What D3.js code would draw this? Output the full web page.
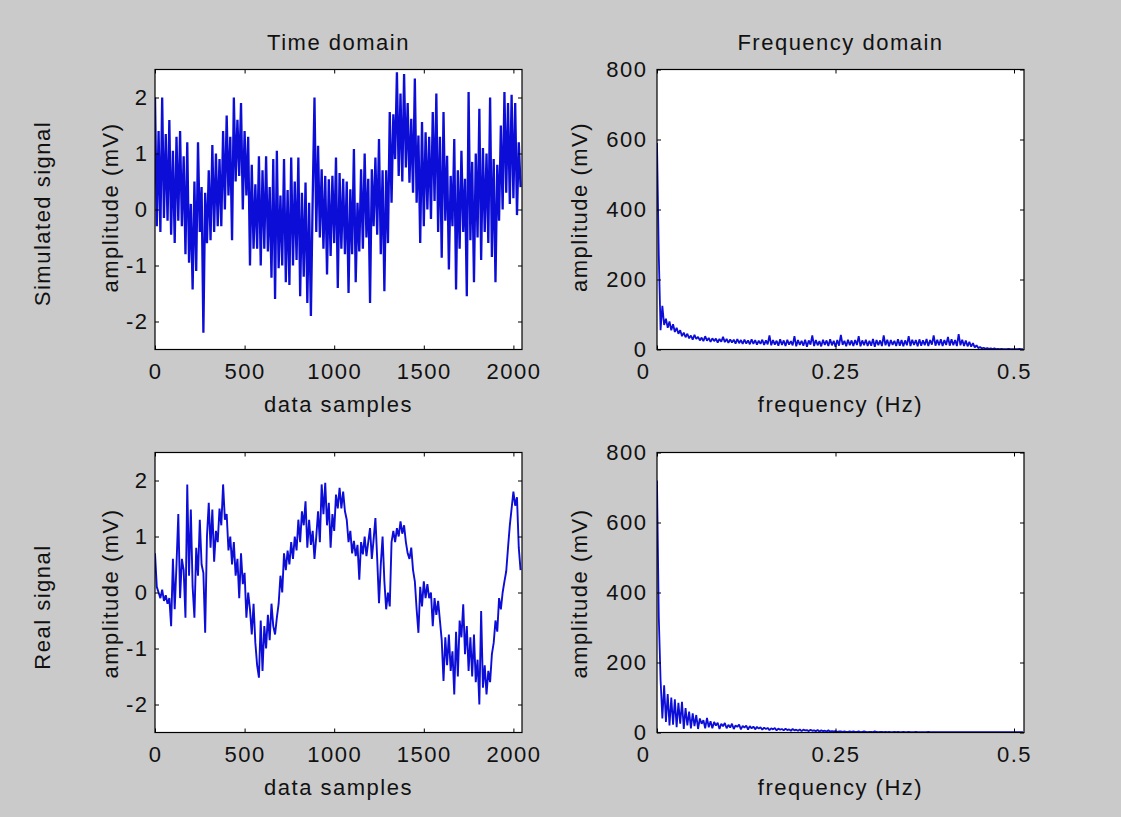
<!DOCTYPE html>
<html>
<head>
<meta charset="utf-8">
<script src="https://cdn.jsdelivr.net/npm/d3@7/dist/d3.min.js"></script>
<style>
  html, body { margin: 0; padding: 0; background: #cacaca; }
  svg { display: block; }
  text { font-family: "Liberation Sans", Arial, sans-serif; font-size: 22px; fill: #111; letter-spacing: 1.5px; }
</style>
</head>
<body>
<svg id="fig" width="1121" height="817"></svg>
<script>
'use strict';

/* ── Data ── */
const sampleStep = 10;          // one value every 10 data samples
const simulatedSignal = [
  2.0, -0.3, 1.4, -0.4, 2.0, -0.15, 1.35, -0.2, 1.6, -0.45,
  1.05, -0.6, 1.3, -0.2, 1.4, -0.3, 0.95, -0.8, 1.2, -0.95,
  0.1, -1.43, 0.5, -1.1, 1.2, -0.4, 0.4, -2.2, 0.3, -0.6,
  0.7, -0.55, 1.15, -0.4, 1.0, -0.3, 0.9, -0.3, 1.4, 0.0,
  1.68, 0.25, 1.3, -0.55, 2.0, 0.5, 1.6, 0.6, 1.9, 0.0,
  1.4, 0.25, 1.3, -1.0, 0.8, -0.7, 0.45, -0.7, 0.95, -1.0,
  0.7, -0.7, 0.95, -0.75, 0.4, -1.22, 0.9, -1.6, 1.05, -1.05,
  0.25, -1.0, 0.9, -1.3, 0.35, -1.35, 0.93, -1.0, 0.5, -0.9,
  0.93, -1.55, 0.3, -1.2, 0.48, -1.67, 0.12, -1.9, 0.2, 2.0,
  -0.4, 1.14, -0.5, 0.72, -0.7, 0.6, -1.16, 0.54, -0.83, 0.6,
  -0.6, 0.93, -1.4, 0.65, -0.7, 0.55, -0.8, 0.5, -1.49, 0.36,
  -0.8, 1.08, -1.3, 0.12, -0.75, 0.72, -0.7, 1.0, -0.5, 0.55,
  -1.67, 0.72, -0.3, 0.93, -0.45, 1.26, -0.8, 0.7, -1.46, 0.7,
  -0.6, 1.74, 0.12, 1.7, 0.9, 2.45, 0.6, 2.07, 0.5, 2.42,
  0.75, 1.9, 0.48, 1.62, 0.3, 2.34, 0.12, 1.32, -0.6, 1.56,
  -0.3, 1.38, 0.0, 1.3, -0.17, 1.74, 0.15, 2.07, -0.4, 1.3,
  -0.86, 1.74, -0.2, 0.96, -1.07, 0.6, -0.3, 1.26, -1.43, 0.7,
  -0.7, 1.05, -0.4, 0.55, -1.55, 2.1, -0.55, 0.85, -1.3, 1.0,
  -0.5, 1.8, -0.9, 1.1, -0.4, 1.0, -0.6, 2.0, -0.85, 0.9,
  -1.3, 0.8, -0.2, 1.5, 0.0, 2.1, 0.3, 1.9, 0.1, 2.05,
  0.2, 1.9, -0.1, 1.2, 0.4
];
const realSignal = [
  0.7, 0.1, 0.0, -0.1, 0.05, -0.15, -0.05, -0.2, -0.1, -0.6,
  0.6, -0.3, 0.5, 1.4, -0.1, 0.6, 0.4, -0.45, 1.93, 0.3,
  1.48, 0.1, -0.45, 0.8, 0.3, 1.3, 0.5, 0.35, -0.72, 1.0,
  1.6, 0.8, 1.48, 0.55, 1.1, 0.9, 1.5, 1.2, 1.93, 1.3,
  1.4, 0.75, 1.0, 0.5, 0.9, 0.3, 0.6, -0.1, 0.7, 0.15,
  0.35, -0.45, 0.0, -0.3, -0.75, -0.2, -0.9, -1.3, -1.52, -0.5,
  -1.4, -0.6, -1.0, -0.4, -0.85, -0.2, -0.6, -0.75, -0.45, -0.2,
  0.3, 0.0, 0.7, 0.4, 0.75, 0.5, 0.9, 0.6, 1.0, 0.75,
  1.3, 0.9, 1.45, 1.2, 1.63, 0.8, 1.3, 0.85, 1.1, 0.6,
  1.0, 1.45, 0.9, 1.93, 1.4, 1.96, 1.2, 1.6, 0.8, 1.4,
  1.1, 1.75, 1.5, 1.87, 1.5, 1.8, 1.45, 1.3, 0.9, 1.1,
  0.7, 0.92, 0.65, 0.85, 0.23, 0.9, 0.68, 1.0, 0.65, 0.9,
  1.15, 0.6, 0.95, 1.33, 0.6, -0.19, 0.5, 1.0, 0.2, -0.3,
  0.0, -0.25, 0.9, 1.1, 0.9, 1.15, 1.0, 1.27, 1.05, 1.2,
  0.9, 0.7, 0.6, 0.8, 0.4, 0.2, -0.3, -0.72, 0.1, -0.25,
  0.2, -0.1, 0.15, -0.1, 0.0, -0.6, -0.1, -0.4, -0.15, -0.5,
  -0.85, -1.58, -0.8, -1.3, -0.75, -1.4, -1.05, -1.82, -0.7, -1.5,
  -0.5, -0.8, -0.21, -1.1, -0.6, -1.4, -0.8, -1.5, -0.75, -1.6,
  -1.2, -2.0, -0.33, -1.7, -1.3, -1.82, -1.4, -1.6, -1.1, -0.9,
  -0.5, -0.7, -0.1, -0.3, 0.0, 0.2, 0.38, 0.8, 1.2, 1.5,
  1.8, 1.55, 1.7, 0.8, 0.4
];

const freqStep = 0.0025;        // Hz between spectrum values
const simulatedSpectrum = [
  590, 270, 55, 125, 70, 88, 62, 80, 55, 72,
  50, 62, 45, 55, 38, 48, 35, 45, 32, 40,
  28, 42, 30, 36, 26, 34, 24, 38, 25, 33,
  22, 32, 24, 31, 20, 30, 22, 36, 21, 30,
  19, 29, 20, 28, 17, 30, 18, 27, 16, 28,
  17, 26, 15, 29, 16, 27, 14, 25, 16, 28,
  13, 26, 15, 40, 12, 27, 14, 25, 11, 29,
  13, 26, 10, 28, 14, 24, 12, 38, 9, 27,
  13, 25, 11, 28, 8, 26, 14, 40, 10, 27,
  12, 24, 9, 28, 13, 26, 10, 29, 12, 25,
  8, 27, 11, 42, 13, 25, 9, 28, 12, 26,
  10, 27, 13, 38, 9, 26, 12, 28, 10, 25,
  11, 30, 8, 27, 12, 26, 10, 40, 12, 28,
  9, 27, 13, 25, 10, 29, 11, 27, 9, 26,
  12, 38, 10, 28, 13, 27, 9, 29, 11, 26,
  12, 30, 10, 27, 14, 40, 11, 28, 12, 29,
  10, 27, 13, 36, 11, 29, 12, 27, 10, 44,
  12, 28, 10, 26, 9, 22, 8, 18, 6, 12,
  4, 7, 3, 5, 2, 4, 2, 3, 1, 3,
  1, 2, 1, 2, 1, 1, 1, 2, 1, 1,
  1, 1, 1, 2, 1, 1
];
const realSpectrum = [
  720, 330, 150, 40, 135, 30, 110, 20, 100, 22,
  95, 15, 85, 25, 88, 10, 70, 20, 60, 12,
  55, 18, 50, 10, 40, 25, 35, 12, 42, 15,
  32, 12, 30, 20, 28, 10, 25, 18, 27, 12,
  22, 14, 25, 10, 20, 16, 23, 9, 19, 14,
  20, 8, 18, 12, 17, 9, 16, 11, 15, 8,
  14, 10, 13, 7, 12, 9, 13, 6, 11, 8,
  10, 6, 11, 7, 9, 5, 10, 6, 8, 5,
  9, 4, 8, 6, 7, 4, 8, 5, 6, 4,
  7, 3, 6, 4, 5, 3, 6, 3, 4, 3,
  4, 2, 3, 3, 2, 3, 2, 2, 3, 2,
  3, 2, 2, 3, 1, 2, 3, 2, 1, 2,
  2, 1, 3, 2, 1, 2, 2, 1, 2, 1,
  2, 1, 1, 2, 1, 2, 1, 1, 2, 1,
  1, 2, 1, 1, 1, 2, 1, 1, 1, 1,
  1, 1, 2, 1, 1, 1, 1, 1, 1, 1,
  1, 1, 1, 1, 1, 1, 1, 1, 1, 1,
  1, 1, 1, 1, 1, 1, 1, 1, 1, 1,
  1, 1, 1, 1, 1, 1, 1, 1, 1, 1,
  1, 1, 1, 1, 1, 1, 1, 1, 1, 1,
  1, 1, 1, 1, 1, 1
];

const timeTicks = [0, 500, 1000, 1500, 2000];
const ampTicks = [-2, -1, 0, 1, 2];
const freqTicks = [0, 0.25, 0.5];
const specTicks = [0, 200, 400, 600, 800];
const columnTitles = ['Time domain', 'Frequency domain'];
const rowLabels = ['Simulated signal', 'Real signal'];
const timeXLabel = 'data samples';
const freqXLabel = 'frequency (Hz)';
const yLabel = 'amplitude (mV)';

/* ── Layout ── */
const cols = [{ x: 155, w: 367 }, { x: 657, w: 367 }];
const rows = [{ y: 69.5, h: 280 }, { y: 452.5, h: 280 }];
const lineColor = '#0d0dd8';

const svg = d3.select('#fig');

const panels = [
  { col: 0, row: 0, data: simulatedSignal, step: sampleStep, xDomain: [0, 2048], yDomain: [-2.5, 2.5], lw: 2.3,
    xTicks: timeTicks, yTicks: ampTicks, yPad: 6.5, xLabel: timeXLabel, yLabelX: 118, yLabelY: 207.5 },
  { col: 1, row: 0, data: simulatedSpectrum, step: freqStep, xDomain: [0, 0.514], yDomain: [0, 800], lw: 1.8,
    xTicks: freqTicks, yTicks: specTicks, yPad: 9.5, xLabel: freqXLabel, yLabelX: 586.5, yLabelY: 207, zeroShift: -14 },
  { col: 0, row: 1, data: realSignal, step: sampleStep, xDomain: [0, 2048], yDomain: [-2.5, 2.5], lw: 1.9,
    xTicks: timeTicks, yTicks: ampTicks, yPad: 6.5, xLabel: timeXLabel, yLabelX: 118, yLabelY: 593.5 },
  { col: 1, row: 1, data: realSpectrum, step: freqStep, xDomain: [0, 0.514], yDomain: [0, 800], lw: 1.8,
    xTicks: freqTicks, yTicks: specTicks, yPad: 9.5, xLabel: freqXLabel, yLabelX: 586.5, yLabelY: 593.5, zeroShift: -14 }
];

/* ── One subplot ── */
function drawPanel(p, idx) {
  const c = cols[p.col], r = rows[p.row];
  const x = d3.scaleLinear().domain(p.xDomain).range([c.x, c.x + c.w]);
  const y = d3.scaleLinear().domain(p.yDomain).range([r.y + r.h, r.y]);
  const g = svg.append('g');

  g.append('rect')
    .attr('x', c.x).attr('y', r.y).attr('width', c.w).attr('height', r.h)
    .attr('fill', '#fff');

  const clipId = 'clip' + idx;
  g.append('clipPath').attr('id', clipId).append('rect')
    .attr('x', c.x).attr('y', r.y).attr('width', c.w).attr('height', r.h);

  const line = d3.line().x((d, i) => x(i * p.step)).y(d => y(d));
  g.append('path')
    .datum(p.data)
    .attr('clip-path', `url(#${clipId})`)
    .attr('fill', 'none')
    .attr('stroke', lineColor)
    .attr('stroke-width', p.lw)
    .attr('stroke-linejoin', 'bevel')
    .attr('d', line);

  // inward tick marks on all four sides (matlab box style)
  const marks = (axis, tx, ty) => g.append('g')
    .attr('transform', `translate(${tx},${ty})`)
    .call(axis.tickSize(-4).tickFormat(''))
    .call(s => s.select('.domain').remove())
    .call(s => s.selectAll('line').attr('stroke', '#000'));
  marks(d3.axisBottom(x).tickValues(p.xTicks), 0, r.y + r.h);
  marks(d3.axisTop(x).tickValues(p.xTicks), 0, r.y);
  marks(d3.axisLeft(y).tickValues(p.yTicks), c.x, 0);
  marks(d3.axisRight(y).tickValues(p.yTicks), c.x + c.w, 0);

  // tick labels
  const xl = g.append('g')
    .attr('transform', `translate(0,${r.y + r.h})`)
    .call(d3.axisBottom(x).tickValues(p.xTicks).tickSize(0).tickPadding(14).tickFormat(d => String(d)));
  xl.select('.domain').remove();
  xl.selectAll('.tick text').filter(d => d === 0).attr('x', p.zeroShift || 0);

  const yl = g.append('g')
    .attr('transform', `translate(${c.x},0)`)
    .call(d3.axisLeft(y).tickValues(p.yTicks).tickSize(0).tickPadding(p.yPad).tickFormat(d => String(d)));
  yl.select('.domain').remove();

  // box
  g.append('rect')
    .attr('x', c.x).attr('y', r.y).attr('width', c.w).attr('height', r.h)
    .attr('fill', 'none').attr('stroke', '#000').attr('stroke-width', 1.2);

  // axis labels
  g.append('text')
    .attr('x', c.x + c.w / 2).attr('y', r.y + r.h + 62)
    .attr('text-anchor', 'middle')
    .text(p.xLabel);

  g.append('text')
    .attr('transform', `translate(${p.yLabelX},${p.yLabelY}) rotate(-90)`)
    .attr('text-anchor', 'middle')
    .text(yLabel);
}

panels.forEach(drawPanel);

/* ── Column titles and row labels ── */
svg.selectAll('text.col-title')
  .data(columnTitles)
  .join('text')
  .attr('class', 'col-title')
  .attr('x', (d, i) => cols[i].x + cols[i].w / 2)
  .attr('y', 49.5)
  .attr('text-anchor', 'middle')
  .text(d => d);

const rowLabelY = [213.5, 607];
svg.selectAll('text.row-label')
  .data(rowLabels)
  .join('text')
  .attr('class', 'row-label')
  .attr('transform', (d, i) => `translate(50,${rowLabelY[i]}) rotate(-90)`)
  .attr('text-anchor', 'middle')
  .text(d => d);
</script>
</body>
</html>
